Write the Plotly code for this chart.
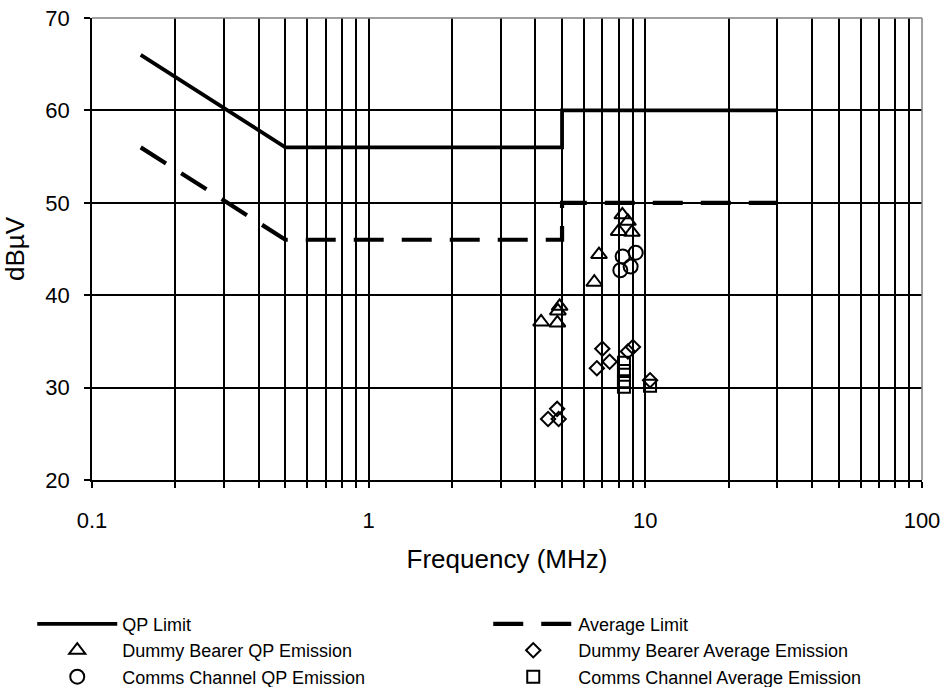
import plotly.graph_objects as go

# ---- data ----
limit_f = [0.15, 0.5, 5, 5, 30]
qp_limit = [66, 56, 56, 60, 60]
avg_limit = [56, 46, 46, 50, 50]

db_qp_f = [8.26, 8.65, 8.01, 8.94, 6.80, 6.54, 4.90, 4.83, 4.20, 4.81]
db_qp_v = [48.7, 48.0, 46.9, 46.8, 44.4, 41.4, 38.8, 38.3, 37.1, 37.0]

cc_qp_f = [8.28, 9.23, 8.12, 8.85]
cc_qp_v = [44.2, 44.6, 42.7, 43.1]

db_av_f = [6.99, 7.43, 6.68, 9.02, 8.65, 10.4, 4.80, 4.45, 4.86]
db_av_v = [34.2, 32.8, 32.1, 34.4, 33.9, 30.8, 27.7, 26.6, 26.6]

cc_av_f = [8.37, 8.37, 8.37, 8.37, 10.4]
cc_av_v = [32.7, 31.8, 30.7, 30.1, 30.2]

x_tickvals = [m * 10 ** e for e in (-1, 0, 1) for m in range(1, 10)] + [100]
x_ticktext = [("0.1" if v == 0.1 else "1" if v == 1 else "10" if v == 10 else "100" if v == 100 else "")
              for v in x_tickvals]
y_tickvals = [20, 30, 40, 50, 60, 70]

FONT = "Arial, Liberation Sans, sans-serif"

fig = go.Figure()
fig.add_trace(go.Scatter(x=limit_f, y=qp_limit, mode="lines", name="QP Limit",
                         line=dict(color="black", width=3.8)))
fig.add_trace(go.Scatter(x=limit_f, y=avg_limit, mode="lines", name="Average Limit",
                         line=dict(color="black", width=4.2, dash="30px,18px")))
fig.add_trace(go.Scatter(x=db_qp_f, y=db_qp_v, mode="markers", name="Dummy Bearer QP Emission",
                         marker=dict(symbol="triangle-up-open", size=14, color="black",
                                     line=dict(width=2, color="black"))))
fig.add_trace(go.Scatter(x=db_av_f, y=db_av_v, mode="markers", name="Dummy Bearer Average Emission",
                         marker=dict(symbol="diamond-open", size=11, color="black",
                                     line=dict(width=2, color="black"))))
fig.add_trace(go.Scatter(x=cc_qp_f, y=cc_qp_v, mode="markers", name="Comms Channel QP Emission",
                         marker=dict(symbol="circle-open", size=14, color="black",
                                     line=dict(width=2, color="black"))))
fig.add_trace(go.Scatter(x=cc_av_f, y=cc_av_v, mode="markers", name="Comms Channel Average Emission",
                         marker=dict(symbol="square-open", size=12, color="black",
                                     line=dict(width=2, color="black"))))

fig.update_layout(
    width=946, height=687,
    margin=dict(l=92, r=24, t=18, b=207, autoexpand=False),
    paper_bgcolor="white", plot_bgcolor="white",
    font=dict(family=FONT, color="black", size=22),
    showlegend=True,
    legend=dict(orientation="h", x=-0.072, xanchor="left", y=-0.272, yanchor="top",
                entrywidth=361, entrywidthmode="pixels", itemwidth=80,
                font=dict(size=18, family=FONT), bgcolor="rgba(0,0,0,0)",
                tracegroupgap=0, traceorder="normal"),
    xaxis=dict(type="log", range=[-1, 2], tickvals=x_tickvals, ticktext=x_ticktext,
               showgrid=True, gridcolor="black", gridwidth=1.6,
               showline=True, linecolor="black", linewidth=1.6,
               ticks="outside", ticklen=6, tickwidth=1.6, tickcolor="black",
               ticklabelstandoff=14, tickfont=dict(size=22),
               title=dict(text="Frequency (MHz)", font=dict(size=26), standoff=18),
               zeroline=False, automargin=False),
    yaxis=dict(range=[20, 70], tickvals=y_tickvals,
               showgrid=True, gridcolor="black", gridwidth=1.6,
               showline=True, linecolor="black", linewidth=1.6,
               ticks="outside", ticklen=6, tickwidth=1.6, tickcolor="black",
               ticklabelstandoff=10, tickfont=dict(size=22),
               title=dict(text="dBµV", font=dict(size=26), standoff=16),
               zeroline=False, automargin=False),
    shapes=[
        dict(type="line", xref="paper", yref="paper", x0=0, x1=1, y0=1, y1=1,
             line=dict(color="#808080", width=1.5), layer="above"),
        dict(type="line", xref="paper", yref="paper", x0=1, x1=1, y0=0, y1=1,
             line=dict(color="#808080", width=1.5), layer="above"),
    ],
)

fig.write_html("out.html")
